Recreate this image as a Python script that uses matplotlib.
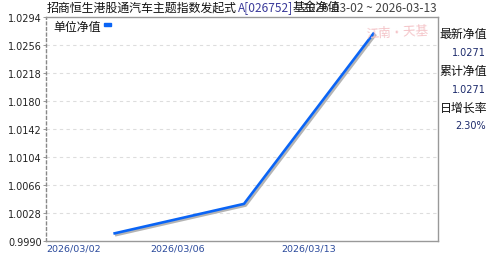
import numpy as np
import matplotlib
matplotlib.use("Agg")
import matplotlib.pyplot as plt
import matplotlib.patheffects as pe
from matplotlib.patches import Rectangle

plt.rcParams['font.family'] = ['Noto Sans CJK SC', 'DejaVu Sans']

# data
fund_name = "招商恒生港股通汽车主题指数发起式"
fund_code = "A[026752]"
date_range = "2026-03-02 ~ 2026-03-13"
nav_dates = ["2026-03-06", "2026-03-12", "2026-03-13"]
nav = [1.0000, 1.0040, 1.0271]
y_ticks = [0.9990, 1.0028, 1.0066, 1.0104, 1.0142, 1.0180, 1.0218, 1.0256, 1.0294]
x_labels = ["2026/03/02", "2026/03/06", "2026/03/13"]
side_names = ["最新净值", "累计净值", "日增长率"]
side_values = ["1.0271", "1.0271", "2.30%"]

W, H = 488, 255
def fx(x):
    return x / W
def fy(y):
    return 1 - y / H

fig = plt.figure(figsize=(W / 100, H / 100), dpi=100)
ax = fig.add_axes([fx(46), fy(241.7), 392 / W, 224 / H])

xs = np.arange(len(nav))
ax.plot(xs, nav, color='#0a64f5', lw=1.9, solid_joinstyle='round',
        path_effects=[pe.SimpleLineShadow(offset=(1.2, -1.2), shadow_color='#b4b4b4', alpha=1, rho=1),
                      pe.Normal()])

ax.set_xlim(-0.515, 2.5)
ax.set_ylim(y_ticks[0], y_ticks[-1])
ax.set_yticks(y_ticks)
ax.set_yticklabels(["%.4f" % v for v in y_ticks], fontsize=7, color='#222222', family='DejaVu Sans')
for v in y_ticks[1:-1]:
    ax.axhline(v, color='#dddddd', lw=0.8, ls=(0, (3, 3)), zorder=0)

ax.set_xticks([-0.531, 0.277, 1.285])
ax.set_xticklabels(x_labels, fontsize=6.8, color='#2b4a9c', family='DejaVu Sans', ha='left')
ax.tick_params(axis='x', length=0, pad=2)
ax.tick_params(axis='y', length=2, width=0.6, color='#888888', pad=1)

for s in ['top', 'right', 'bottom']:
    ax.spines[s].set_color('#999999')
    ax.spines[s].set_linewidth(1)
ax.spines['left'].set_color('#888888')
ax.spines['left'].set_linestyle((0, (2, 2)))
ax.spines['left'].set_linewidth(1)

# title row
fig.text(fx(47), fy(8), fund_name, fontsize=8.6, color='#111111', va='center', ha='left')
fig.text(fx(238), fy(8), fund_code, fontsize=8.6, color='#3a3a9a', va='center', ha='left')
fig.text(fx(293), fy(8), "基金净值", fontsize=8.6, color='#111111', va='center', ha='left')
fig.text(fx(437), fy(8), date_range, fontsize=8.6, color='#222222', va='center', ha='right', alpha=0.85)

# legend
fig.text(fx(53), fy(27), "单位净值", fontsize=8.6, color='#111111', va='center', ha='left')
fig.patches.append(Rectangle((fx(104), fy(26.5)), 7 / W, 3 / H, transform=fig.transFigure,
                             color='#0a64f5', figure=fig))

# watermark
fig.text(fx(397), fy(33), "江南·天基", fontsize=9, color='#f4c4c8', va='center', ha='center',
         style='italic', rotation=3)

# side panel
side_y = [35, 72, 108]
for name, val, y in zip(side_names, side_values, side_y):
    fig.text(fx(487), fy(y), name, fontsize=8.6, color='#111111', va='center', ha='right')
    fig.text(fx(486), fy(y + 18), val, fontsize=7, color='#1c2a6b', va='center', ha='right',
             family='DejaVu Sans')

fig.savefig("out.png", dpi=100)
